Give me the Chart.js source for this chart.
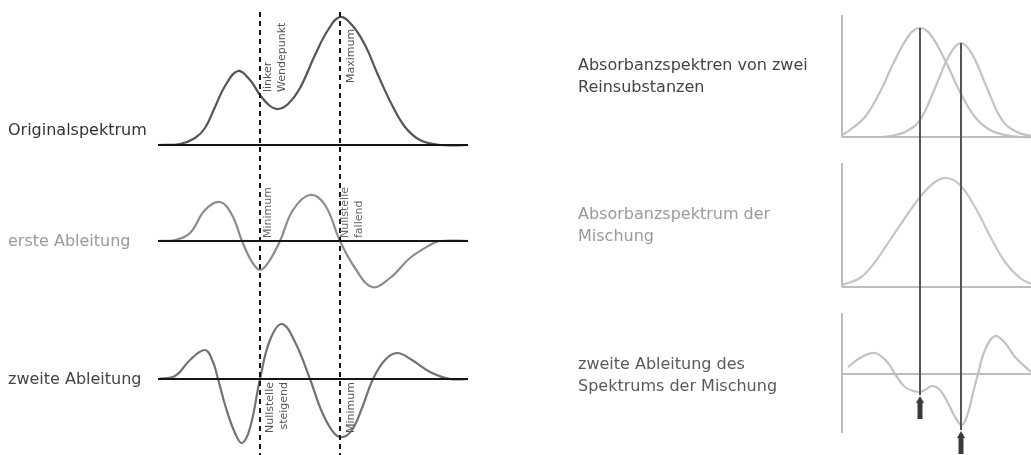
<!DOCTYPE html>
<html lang="de">
<head>
<meta charset="utf-8">
<title>Ableitungsspektren</title>
<script src="https://cdn.jsdelivr.net/npm/chart.js@4.4.1/dist/chart.umd.min.js"></script>
<style>
  html, body { margin: 0; padding: 0; background: #fff; }
  body { width: 1031px; height: 455px; position: relative; overflow: hidden; }
  canvas { position: absolute; top: 0; }
  #derivChart { left: 0; }
  #mixChart { left: 560px; }
</style>
</head>
<body>
<canvas id="derivChart" width="500" height="455"></canvas>
<canvas id="mixChart" width="471" height="455"></canvas>
<script>
// --- left column: original band and its derivatives ---
const origX = [0, 22, 37, 47, 57, 67, 80, 92, 102, 112, 120, 130, 142, 157, 170, 182, 194, 207, 220, 234, 247, 262, 282, 310];
const origY = [0, 1, 7, 17, 38, 59, 74, 65, 50, 39, 36, 41, 57, 90, 115, 128, 120, 100, 70, 40, 18, 5, 0, 0];

const d1X = [0, 17, 32, 47, 62, 74, 84, 94, 102, 110, 122, 135, 152, 167, 182, 197, 214, 232, 252, 272, 282, 310];
const d1Y = [0, 1, 8, 31, 39, 26, 0, -21, -29, -22, 0, 31, 46, 36, 0, -27, -46, -37, -17, -4, 0, 0];

const d2X = [0, 17, 32, 47, 55, 60, 68, 77, 84, 92, 102, 112, 124, 137, 152, 164, 176, 185, 194, 204, 215, 227, 239, 254, 272, 292, 310];
const d2Y = [0, 3, 19, 29, 17, 0, -29, -54, -64, -49, 0, 39, 55, 37, 0, -33, -54, -58, -51, -29, 0, 19, 26, 19, 7, 0, 0];

// inflection point (left) and band maximum
const markerX = [102, 182];
const rowLabels = ['Originalspektrum', 'erste Ableitung', 'zweite Ableitung'];

// --- right column: two pure bands, their mixture and its 2nd derivative ---
const pureAX = [0, 8, 23, 38, 53, 68, 78, 88, 103, 118, 133, 148, 163, 178, 189];
const pureAY = [2, 7, 20, 45, 77, 103, 109, 103, 77, 45, 20, 7, 2, 0, 0];
const pureBX = [38, 48, 63, 78, 93, 108, 119, 130, 145, 160, 175, 189];
const pureBY = [0, 1, 5, 17, 49, 83, 94, 83, 49, 17, 5, 1];

const mixX = [0, 18, 33, 48, 63, 78, 93, 105, 118, 133, 148, 163, 178, 189];
const mixY = [2, 9, 25, 47, 69, 90, 105, 109, 102, 80, 51, 25, 9, 3];

const mixD2X = [6, 18, 33, 46, 53, 63, 76, 83, 90, 98, 106, 113, 120, 126, 131, 136, 143, 153, 163, 173, 189];
const mixD2Y = [7, 16, 21, 11, 0, -13, -18, -16, -12, -16, -29, -43, -51, -39, -19, 0, 24, 38, 31, 17, 2];

const peakX = [78, 119];
const peakY = [109, 94];
const arrowTipY = [-21, -56];
const panelTitles = [
  ['Absorbanzspektren von zwei', 'Reinsubstanzen'],
  ['Absorbanzspektrum der', 'Mischung'],
  ['zweite Ableitung des', 'Spektrums der Mischung']
];

const FONT = '"DejaVu Sans", sans-serif';

const pts = (xs, ys) => xs.map((x, i) => ({ x, y: ys[i] }));

function curve(xs, ys, axis, color) {
  return {
    data: pts(xs, ys),
    yAxisID: axis,
    borderColor: color,
    borderWidth: 2.2,
    pointRadius: 0,
    tension: 0.4,
    fill: false
  };
}

// rotated notes next to the dashed markers
const derivNotes = [
  { axis: 'yOrig', marker: 0, lines: ['linker', 'Wendepunkt'], dx: 8, dy: -53, align: 'left', color: '#555' },
  { axis: 'yOrig', marker: 1, lines: ['Maximum'], dx: 11, dy: -62, align: 'left', color: '#555' },
  { axis: 'yD1', marker: 0, lines: ['Minimum'], dx: 8, dy: -3, align: 'left', color: '#666' },
  { axis: 'yD1', marker: 1, lines: ['Nullstelle', 'fallend'], dx: 5, dy: -3, align: 'left', color: '#666' },
  { axis: 'yD2', marker: 0, lines: ['Nullstelle', 'steigend'], dx: 10, dy: 3, align: 'right', color: '#555' },
  { axis: 'yD2', marker: 1, lines: ['Minimum'], dx: 11, dy: 3, align: 'right', color: '#555' }
];
const rowStyle = [
  { axis: 'yOrig', dy: -14, color: '#333' },
  { axis: 'yD1', dy: 1, color: '#9a9a9a' },
  { axis: 'yD2', dy: 1, color: '#444' }
];

const derivDecor = {
  id: 'derivDecor',
  afterDatasetsDraw(chart) {
    const { ctx, chartArea: a, scales } = chart;
    ctx.save();

    // zero lines
    ctx.strokeStyle = '#161616';
    ctx.lineWidth = 2;
    ['yOrig', 'yD1', 'yD2'].forEach(id => {
      const y = Math.round(scales[id].getPixelForValue(0));
      ctx.beginPath();
      ctx.moveTo(a.left, y);
      ctx.lineTo(a.right, y);
      ctx.stroke();
    });

    // dashed markers through all three rows
    ctx.setLineDash([5, 4]);
    markerX.forEach(v => {
      const x = Math.round(scales.x.getPixelForValue(v));
      ctx.beginPath();
      ctx.moveTo(x, a.top + 2);
      ctx.lineTo(x, chart.height);
      ctx.stroke();
    });
    ctx.setLineDash([]);

    // notes
    ctx.font = '11px ' + FONT;
    ctx.textBaseline = 'middle';
    derivNotes.forEach(n => {
      const x0 = scales.x.getPixelForValue(markerX[n.marker]) + n.dx;
      const y0 = scales[n.axis].getPixelForValue(0) + n.dy;
      ctx.fillStyle = n.color;
      ctx.textAlign = n.align;
      n.lines.forEach((t, i) => {
        ctx.save();
        ctx.translate(x0 + i * 14, y0);
        ctx.rotate(-Math.PI / 2);
        ctx.fillText(t, 0, 0);
        ctx.restore();
      });
    });

    // row labels
    ctx.font = '16px ' + FONT;
    ctx.textAlign = 'left';
    rowLabels.forEach((t, i) => {
      const s = rowStyle[i];
      ctx.fillStyle = s.color;
      ctx.fillText(t, 8, scales[s.axis].getPixelForValue(0) + s.dy);
    });
    ctx.restore();
  }
};

new Chart(document.getElementById('derivChart'), {
  type: 'line',
  data: {
    datasets: [
      curve(origX, origY, 'yOrig', '#555'),
      curve(d1X, d1Y, 'yD1', '#8c8c8c'),
      curve(d2X, d2Y, 'yD2', '#727272')
    ]
  },
  options: {
    responsive: false,
    animation: false,
    events: [],
    layout: { padding: { left: 158, right: 32, top: 10, bottom: 0 } },
    plugins: { legend: { display: false }, tooltip: { enabled: false } },
    scales: {
      x: { type: 'linear', display: false, min: 0, max: 310 },
      yD2: { display: false, stack: 'rows', stackWeight: 155, weight: 1, min: -76, max: 79 },
      yD1: { display: false, stack: 'rows', stackWeight: 140, weight: 2, min: -59, max: 81 },
      yOrig: { display: false, stack: 'rows', stackWeight: 150, weight: 3, min: -15, max: 135 }
    }
  },
  plugins: [derivDecor]
});

// right-hand panels
const axisSpan = { yA: [122, 0], yB: [124, 0], yC: [61, -59] };
const titleStyle = [
  { axis: 'yA', dy: -71, color: '#444' },
  { axis: 'yB', dy: -72, color: '#9a9a9a' },
  { axis: 'yC', dy: -9, color: '#5a5a5a' }
];

function drawArrow(ctx, x, yTip, len) {
  ctx.beginPath();
  ctx.moveTo(x, yTip);
  ctx.lineTo(x - 4, yTip + 7);
  ctx.lineTo(x + 4, yTip + 7);
  ctx.closePath();
  ctx.fill();
  ctx.fillRect(x - 2.5, yTip + 6, 5, len - 6);
}

const mixDecor = {
  id: 'mixDecor',
  afterDatasetsDraw(chart) {
    const { ctx, chartArea: a, scales } = chart;
    ctx.save();

    // small axes
    ctx.strokeStyle = '#bdbdbd';
    ctx.lineWidth = 2;
    Object.keys(axisSpan).forEach(id => {
      const s = scales[id];
      const y0 = Math.round(s.getPixelForValue(0));
      ctx.beginPath();
      ctx.moveTo(a.left, y0);
      ctx.lineTo(a.right, y0);
      ctx.stroke();
      ctx.beginPath();
      ctx.moveTo(a.left, s.getPixelForValue(axisSpan[id][0]));
      ctx.lineTo(a.left, s.getPixelForValue(axisSpan[id][1]));
      ctx.stroke();
    });

    // peak positions of the pure substances down to the derivative minima
    ctx.strokeStyle = '#555';
    ctx.fillStyle = '#3a3a3a';
    peakX.forEach((v, i) => {
      const x = Math.round(scales.x.getPixelForValue(v));
      const yTop = scales.yA.getPixelForValue(peakY[i]);
      const yTip = scales.yC.getPixelForValue(arrowTipY[i]);
      ctx.beginPath();
      ctx.moveTo(x, yTop);
      ctx.lineTo(x, yTip);
      ctx.stroke();
      drawArrow(ctx, x, yTip + 1, 23);
    });

    // titles
    ctx.font = '16px ' + FONT;
    ctx.textAlign = 'left';
    ctx.textBaseline = 'middle';
    panelTitles.forEach((lines, i) => {
      const s = titleStyle[i];
      ctx.fillStyle = s.color;
      lines.forEach((t, j) => {
        ctx.fillText(t, 18, scales[s.axis].getPixelForValue(0) + s.dy + j * 22);
      });
    });
    ctx.restore();
  }
};

new Chart(document.getElementById('mixChart'), {
  type: 'line',
  data: {
    datasets: [
      curve(pureAX, pureAY, 'yA', '#c2c2c2'),
      curve(pureBX, pureBY, 'yA', '#c2c2c2'),
      curve(mixX, mixY, 'yB', '#c6c6c6'),
      curve(mixD2X, mixD2Y, 'yC', '#c2c2c2')
    ]
  },
  options: {
    responsive: false,
    animation: false,
    events: [],
    layout: { padding: { left: 282, right: 0, top: 10, bottom: 0 } },
    plugins: { legend: { display: false }, tooltip: { enabled: false } },
    scales: {
      x: { type: 'linear', display: false, min: 0, max: 189 },
      yC: { display: false, stack: 'rows', stackWeight: 155, weight: 1, min: -81, max: 74 },
      yB: { display: false, stack: 'rows', stackWeight: 150, weight: 2, min: -13, max: 137 },
      yA: { display: false, stack: 'rows', stackWeight: 140, weight: 3, min: -13, max: 127 }
    }
  },
  plugins: [mixDecor]
});
</script>
</body>
</html>
